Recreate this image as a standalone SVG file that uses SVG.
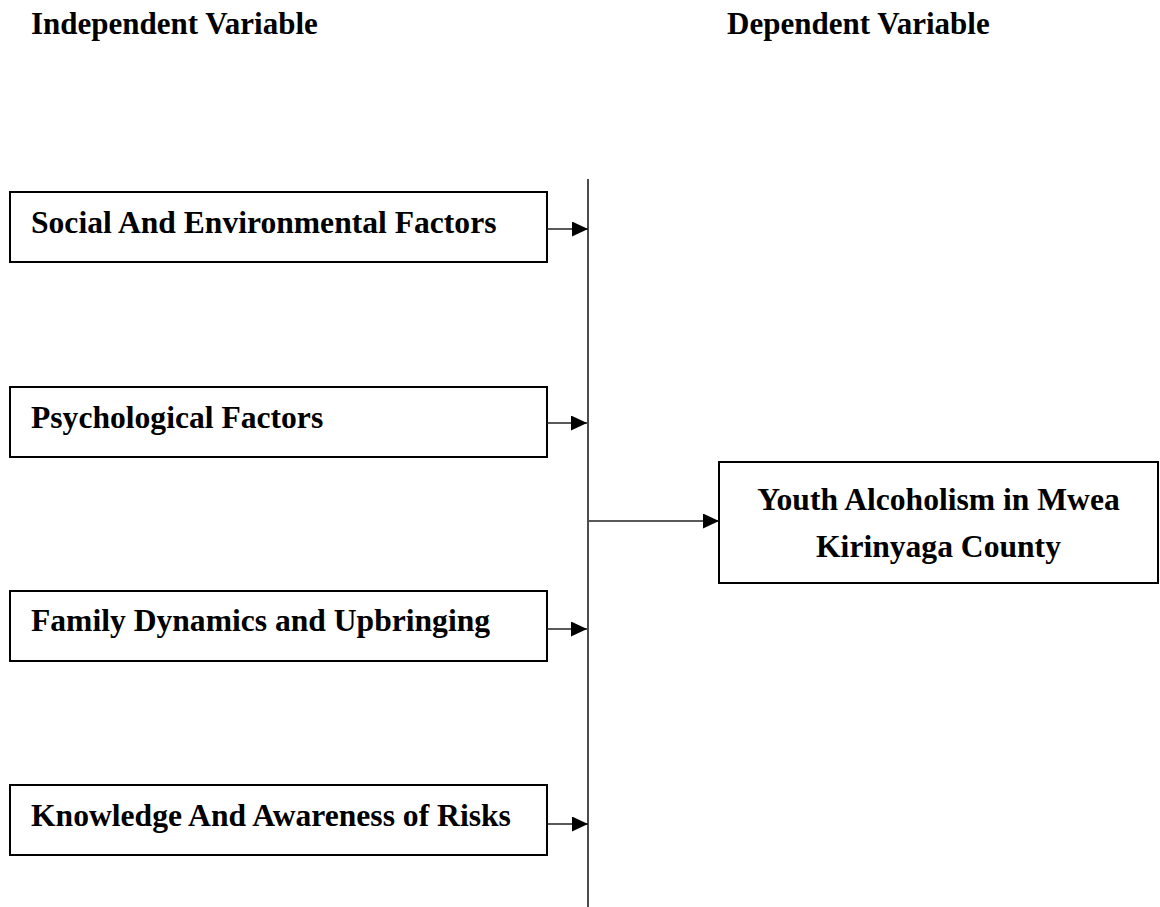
<svg xmlns="http://www.w3.org/2000/svg" width="1160" height="907" viewBox="0 0 1160 907">
<style>
.bg{fill:#fff}
.box{fill:#fff;stroke:#000;stroke-width:2}
.t{font-family:"Liberation Serif","Times New Roman",serif;font-weight:bold;font-size:31px;fill:#000}
.b{font-size:31.6px}
.c{stroke:#222;stroke-width:1.6;fill:none}
.v{stroke:#000;stroke-width:1.4;fill:none}
</style>
<defs>
<marker id="ah" markerWidth="16" markerHeight="15" refX="16" refY="7.5" orient="auto" markerUnits="userSpaceOnUse">
<path d="M0,0 L16,7.5 L0,15 Z" fill="#000"/>
</marker>
</defs>
<rect class="bg" x="0" y="0" width="1160" height="907"/>
<text class="t" x="31" y="34">Independent Variable</text>
<text class="t" x="727" y="34">Dependent Variable</text>
<g id="node-social">
<rect class="box" x="10" y="192" width="537" height="70"/>
<text class="t b" x="31" y="233">Social And Environmental Factors</text>
</g>
<g id="node-psych">
<rect class="box" x="10" y="387" width="537" height="70"/>
<text class="t b" x="31" y="428">Psychological Factors</text>
</g>
<g id="node-family">
<rect class="box" x="10" y="591" width="537" height="70"/>
<text class="t b" x="31" y="631">Family Dynamics and Upbringing</text>
</g>
<g id="node-knowledge">
<rect class="box" x="10" y="785" width="537" height="70"/>
<text class="t b" x="31" y="826">Knowledge And Awareness of Risks</text>
</g>
<g id="node-youth">
<rect class="box" x="719" y="462" width="439" height="121"/>
<text class="t b" x="938.5" y="510" text-anchor="middle">Youth Alcoholism in Mwea</text>
<text class="t b" x="938.5" y="557" text-anchor="middle">Kirinyaga County</text>
</g>
<g id="connectors">
<line class="v" x1="588" y1="179" x2="588" y2="907"/>
<line class="c" x1="547" y1="229" x2="588" y2="229" marker-end="url(#ah)"/>
<line class="c" x1="547" y1="423" x2="587" y2="423" marker-end="url(#ah)"/>
<line class="c" x1="547" y1="629" x2="587" y2="629" marker-end="url(#ah)"/>
<line class="c" x1="547" y1="824" x2="588" y2="824" marker-end="url(#ah)"/>
<line class="c" x1="589" y1="521" x2="719" y2="521" marker-end="url(#ah)"/>
</g>
</svg>
